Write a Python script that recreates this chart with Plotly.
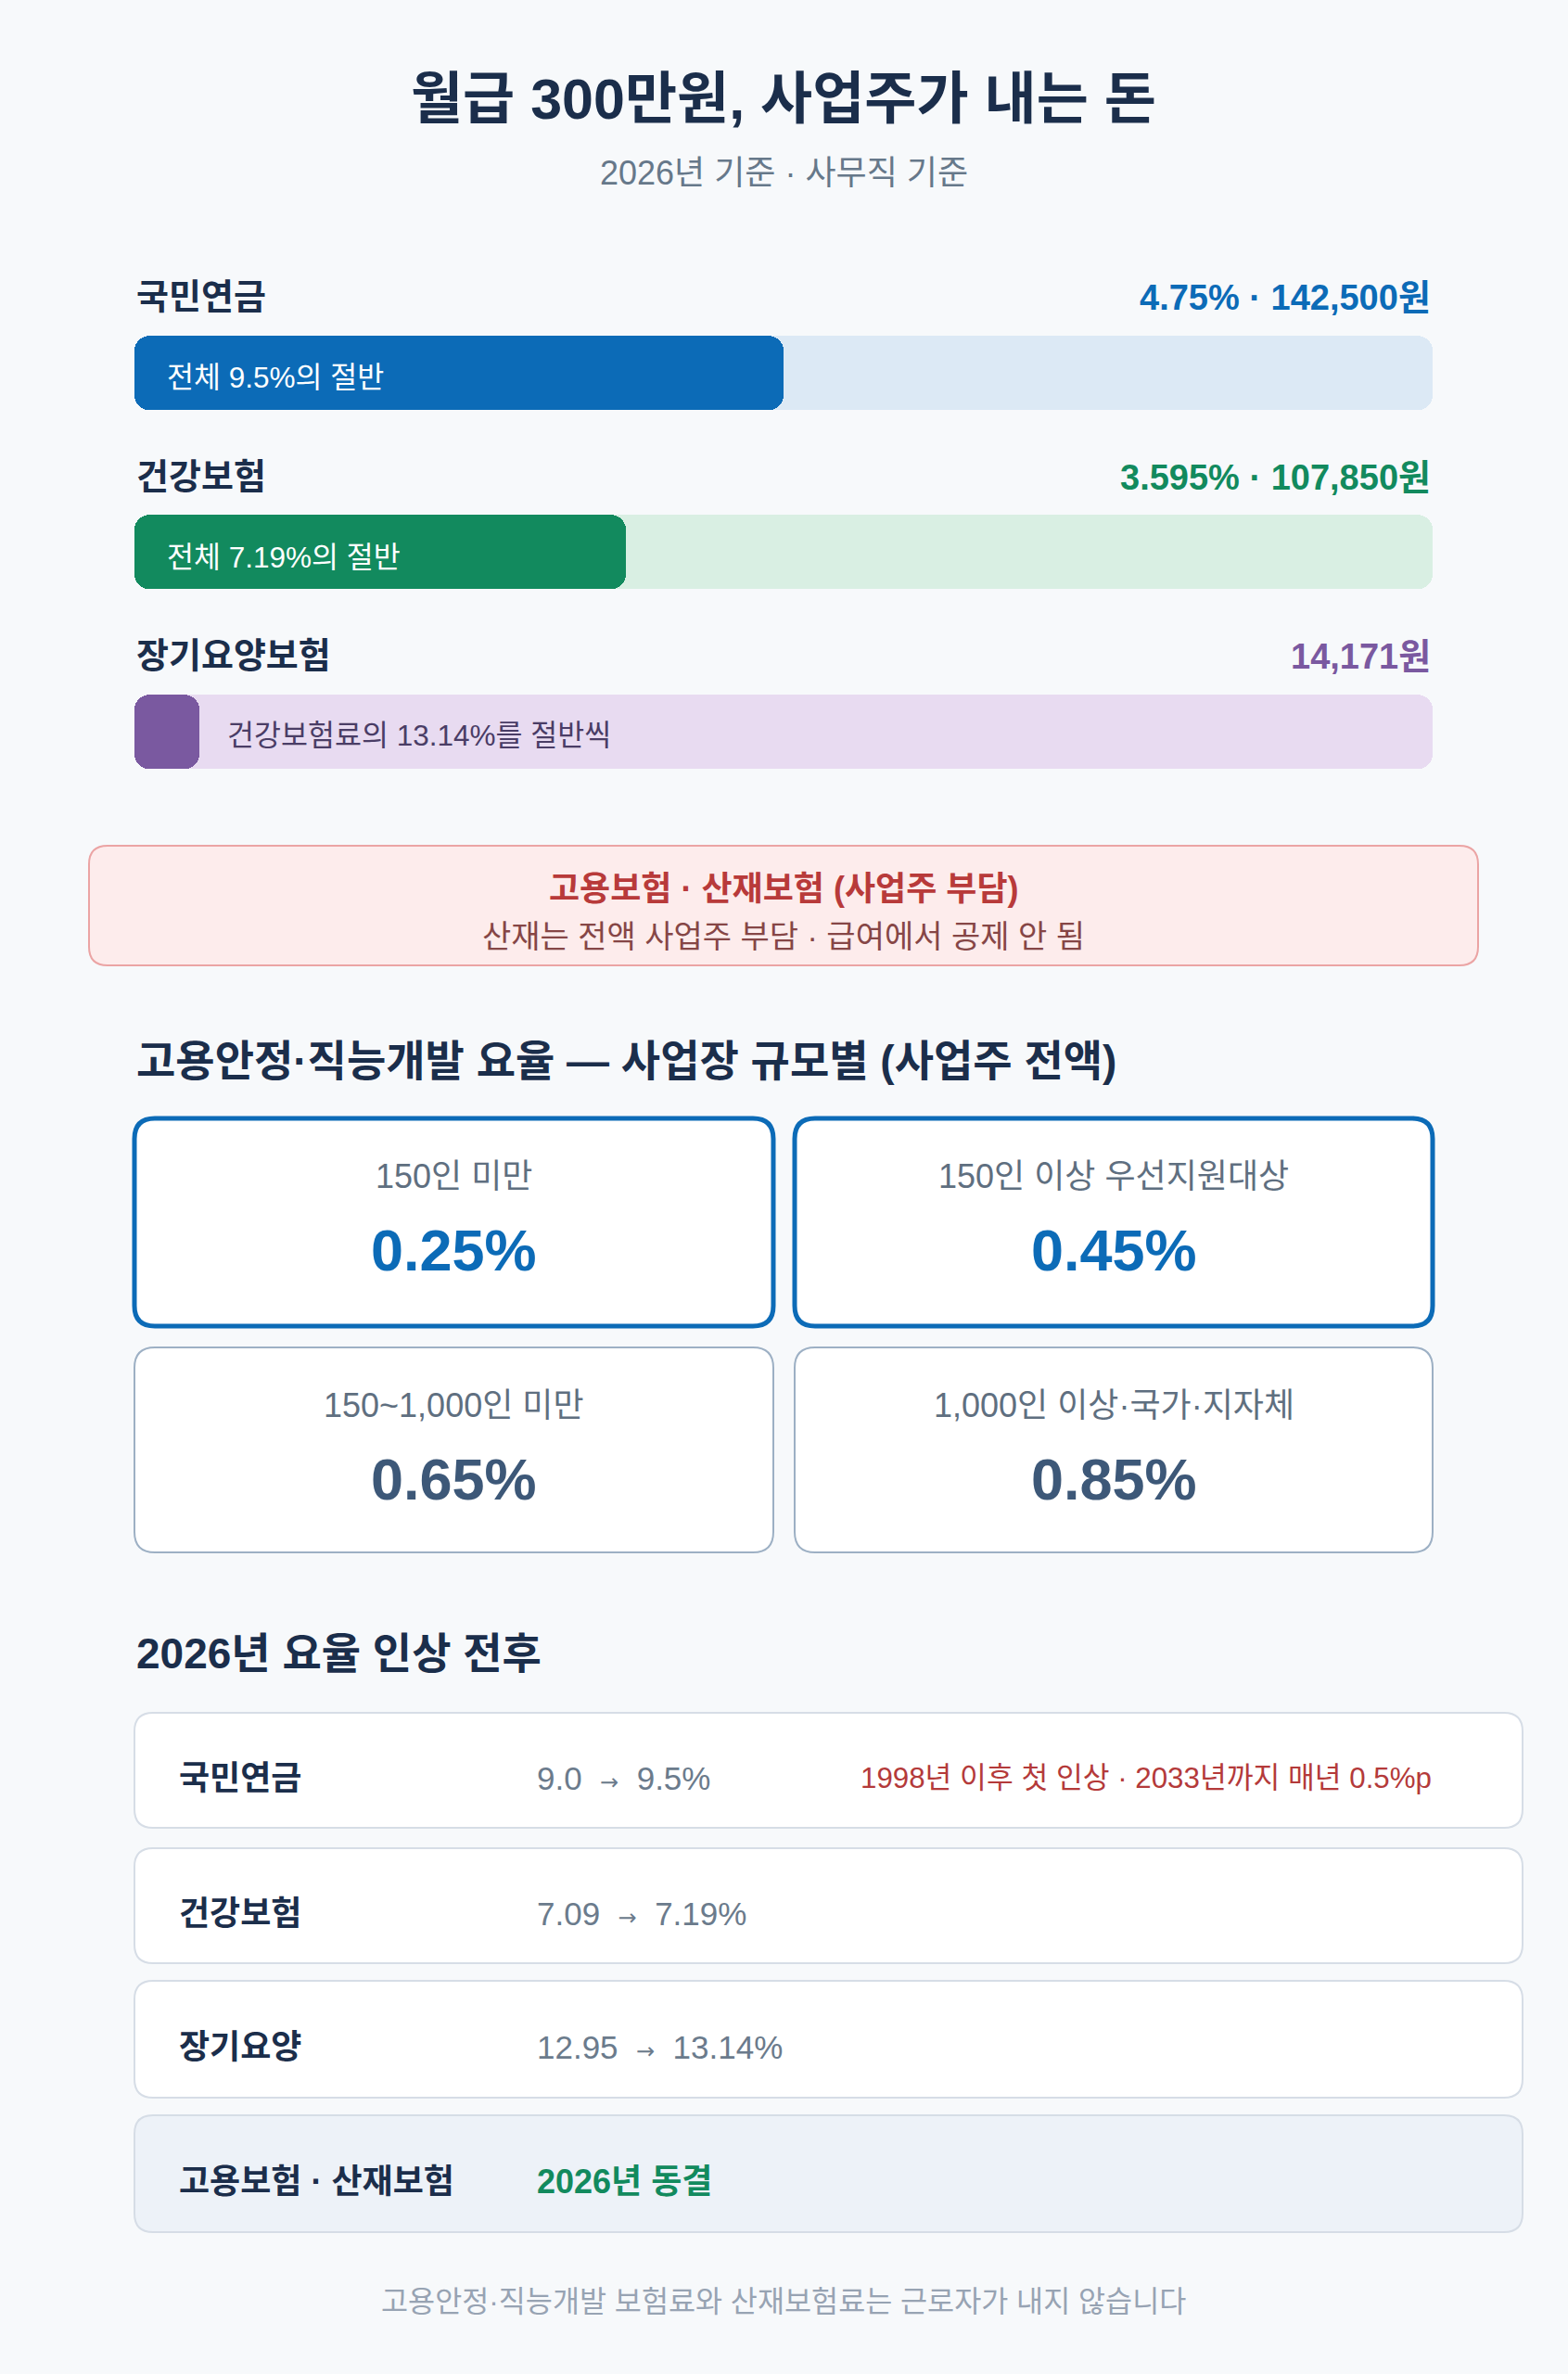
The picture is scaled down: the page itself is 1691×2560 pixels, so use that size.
import plotly.graph_objects as go

# ---------------- data ----------------
bar_names = ["국민연금", "건강보험", "장기요양보험"]
bar_rates = [4.75, 3.595, 0.4724]          # employer share, % of wage
bar_scale_max = 9.5                         # full scale of the bars (%)
bar_value_labels = ["4.75% · 142,500원", "3.595% · 107,850원", "14,171원"]
bar_inner_labels = ["전체 9.5%의 절반", "전체 7.19%의 절반", "건강보험료의 13.14%를 절반씩"]
bar_fill_colors = ["#0c6bb7", "#128a5e", "#7a59a0"]
bar_track_colors = ["#dce9f5", "#d9efe3", "#e8dbf1"]

card_labels = ["150인 미만", "150인 이상 우선지원대상", "150~1,000인 미만", "1,000인 이상·국가·지자체"]
card_values = ["0.25%", "0.45%", "0.65%", "0.85%"]

table_names = ["국민연금", "건강보험", "장기요양", "고용보험 · 산재보험"]
table_before = ["9.0", "7.09", "12.95", ""]
table_after = ["9.5%", "7.19%", "13.14%", ""]
table_notes = ["1998년 이후 첫 인상 · 2033년까지 매년 0.5%p", "", "", ""]
freeze_text = "2026년 동결"

title_text = "월급 300만원, 사업주가 내는 돈"
subtitle_text = "2026년 기준 · 사무직 기준"
box_title = "고용보험 · 산재보험 (사업주 부담)"
box_sub = "산재는 전액 사업주 부담 · 급여에서 공제 안 됨"
heading1 = "고용안정·직능개발 요율 — 사업장 규모별 (사업주 전액)"
heading2 = "2026년 요율 인상 전후"
footer_text = "고용안정·직능개발 보험료와 산재보험료는 근로자가 내지 않습니다"

# ---------------- layout helpers ----------------
W, H = 1691, 2560
FONT = "Liberation Sans, Noto Sans CJK KR, sans-serif"
NAVY = "#1b2e4b"
BG = "#f7f9fb"


def px(x):
    return x / W


def py(y):
    return 1 - y / H


def rrect(x0, y0, x1, y1, r):
    pts = [
        ("M", (x0 + r, y0)), ("L", (x1 - r, y0)), ("Q", (x1, y0), (x1, y0 + r)),
        ("L", (x1, y1 - r)), ("Q", (x1, y1), (x1 - r, y1)),
        ("L", (x0 + r, y1)), ("Q", (x0, y1), (x0, y1 - r)),
        ("L", (x0, y0 + r)), ("Q", (x0, y0), (x0 + r, y0)),
    ]
    s = []
    for p in pts:
        cmd = p[0]
        coords = " ".join(f"{px(a):.6f},{py(b):.6f}" for a, b in p[1:])
        s.append(f"{cmd}{coords}")
    return " ".join(s) + " Z"


def box(x0, y0, x1, y1, r, fill, line, lw):
    return dict(type="path", xref="paper", yref="paper", path=rrect(x0, y0, x1, y1, r),
                fillcolor=fill, line=dict(color=line, width=lw), layer="below")


def text(x, y, t, size, color, anchor="center", bold=False, dy=3):
    return dict(xref="paper", yref="paper", x=px(x), y=py(y + dy), text=(f"<b>{t}</b>" if bold else t),
                showarrow=False, xanchor=anchor, yanchor="middle",
                font=dict(family=FONT, size=size, color=color))


fig = go.Figure()

# ---------------- bars (drawn through axis scales) ----------------
BAR_W = 0.413
for i, name in enumerate(bar_names):
    fig.add_trace(go.Bar(y=[name], x=[bar_scale_max], base=[0], orientation="h",
                         width=BAR_W, marker=dict(color=bar_track_colors[i], line=dict(width=0)),
                         hoverinfo="skip", showlegend=False))
    fig.add_trace(go.Bar(y=[name], x=[bar_rates[i]], base=[0], orientation="h",
                         width=BAR_W, marker=dict(color=bar_fill_colors[i], line=dict(width=0)),
                         hoverinfo="skip", showlegend=False))

annotations = []
for i, name in enumerate(bar_names):
    annotations.append(dict(xref="x", yref="y", x=0, y=name, yshift=82, xanchor="left", yanchor="middle",
                            text=f"<b>{name}</b>", showarrow=False,
                            font=dict(family=FONT, size=38, color=NAVY)))
    annotations.append(dict(xref="x", yref="y", x=bar_scale_max, y=name, yshift=81, xanchor="right",
                            yanchor="middle", text=f"<b>{bar_value_labels[i]}</b>", showarrow=False,
                            font=dict(family=FONT, size=38, color=bar_fill_colors[i])))
    if i < 2:
        annotations.append(dict(xref="x", yref="y", x=0, y=name, xshift=33, yshift=-5, xanchor="left",
                                yanchor="middle", text=bar_inner_labels[i], showarrow=False,
                                font=dict(family=FONT, size=31.5, color="#ffffff")))
    else:
        annotations.append(dict(xref="x", yref="y", x=bar_rates[i], y=name, xshift=28, yshift=-4,
                                xanchor="left", yanchor="middle", text=bar_inner_labels[i], showarrow=False,
                                font=dict(family=FONT, size=31.5, color="#4a3d66")))

shapes = []

# title
annotations.append(text(845, 104, title_text, 61, NAVY, bold=True))
annotations.append(text(845, 184, subtitle_text, 36, "#66788a"))

# pink box
shapes.append(box(96, 912, 1594, 1041, 20, "#fdecec", "#eba4a4", 2))
annotations.append(text(845, 955, box_title, 36, "#b83a3a", bold=True))
annotations.append(text(845, 1007, box_sub, 34, "#864646"))

# heading 1
annotations.append(text(145, 1141, heading1, 46, NAVY, anchor="left", bold=True))

# cards
card_cols = [(145, 834), (857, 1545)]
card_rows = [(1206, 1430), (1453, 1674)]
for k in range(4):
    r, c = divmod(k, 2)
    x0, x1 = card_cols[c]
    y0, y1 = card_rows[r]
    if r == 0:
        shapes.append(box(x0, y0, x1, y1, 22, "#ffffff", "#0c6bb7", 5))
        vcol = "#0c6bb7"
    else:
        shapes.append(box(x0, y0, x1, y1, 22, "#ffffff", "#9db0c4", 2))
        vcol = "#3d5878"
    cx = (x0 + x1) / 2
    annotations.append(text(cx, y0 + 59, card_labels[k], 36, "#5f6f80"))
    annotations.append(text(cx, y0 + 139, card_values[k], 63, vcol, bold=True))

# heading 2
annotations.append(text(145, 1780, heading2, 46, NAVY, anchor="left", bold=True))

# table rows
row_y = [(1847, 1971), (1993, 2117), (2136, 2262), (2281, 2407)]
for k in range(4):
    y0, y1 = row_y[k]
    fill = "#edf2f8" if k == 3 else "#ffffff"
    shapes.append(box(145, y0, 1642, y1, 20, fill, "#d6dde6", 2))
    cy = (y0 + y1) / 2
    annotations.append(text(191, cy, table_names[k], 36, NAVY, anchor="left", bold=True, dy=8))
    if table_before[k]:
        t = (f"{table_before[k]}  <span style='font-family:DejaVu Sans;font-size:24px'>→</span>  "
             f"{table_after[k]}")
        annotations.append(text(577, cy, t, 35, "#6b7b8c", anchor="left", dy=8))
    else:
        annotations.append(text(577, cy, freeze_text, 36, "#128a5e", anchor="left", bold=True, dy=8))
    if table_notes[k]:
        annotations.append(text(926, cy, table_notes[k], 31.3, "#b43a3a", anchor="left", dy=8))

# footer
annotations.append(text(845, 2479, footer_text, 31.6, "#97a3b3"))

fig.update_layout(
    width=W, height=H,
    margin=dict(l=0, r=0, t=0, b=0),
    paper_bgcolor=BG, plot_bgcolor="rgba(0,0,0,0)",
    barmode="overlay", barcornerradius=16, bargap=0,
    xaxis=dict(domain=[px(145), px(1545)], range=[0, bar_scale_max], visible=False, fixedrange=True),
    yaxis=dict(domain=[py(885.75), py(305.25)], type="category", categoryorder="array",
               categoryarray=bar_names, range=[2.5, -0.5], visible=False, fixedrange=True),
    shapes=shapes, annotations=annotations,
    showlegend=False,
)

fig.write_html("out.html", config={"displayModeBar": False},
               post_script="document.body.style.margin='0px';document.body.style.background='" + BG + "';")
